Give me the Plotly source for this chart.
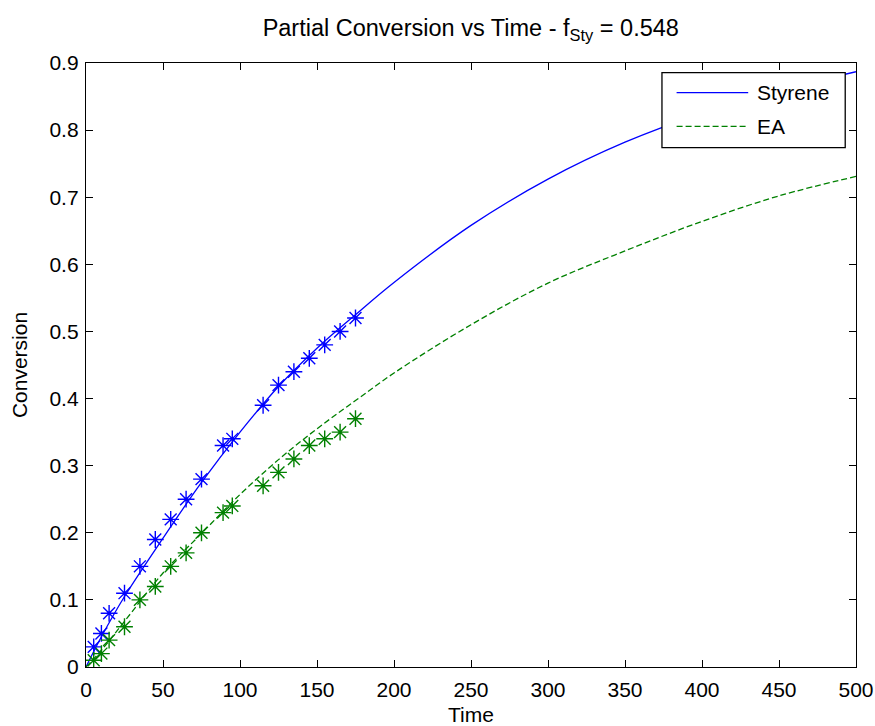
import plotly.graph_objects as go

# Measured conversions (sample times)
t_data = [5, 10, 15, 25, 35, 45, 55, 65, 75, 89, 95, 115, 125, 135, 145, 155, 165, 175]
sty_data = [0.03, 0.05, 0.08, 0.11, 0.15, 0.19, 0.22, 0.25, 0.28, 0.33, 0.34,
            0.39, 0.42, 0.44, 0.46, 0.48, 0.50, 0.52]
ea_data = [0.01, 0.02, 0.04, 0.06, 0.10, 0.12, 0.15, 0.17, 0.20, 0.23, 0.24,
           0.27, 0.29, 0.31, 0.33, 0.34, 0.35, 0.37]

# Model predictions
t_model = [0, 10, 25, 50, 75, 100, 125, 150, 175, 200, 250, 300, 350, 400, 450, 500]
sty_model = [0, 0.045, 0.105, 0.192, 0.275, 0.350, 0.418, 0.475, 0.525, 0.573,
             0.658, 0.727, 0.782, 0.825, 0.859, 0.887]
ea_model = [0, 0.025, 0.068, 0.140, 0.199, 0.257, 0.309, 0.355, 0.397, 0.438,
            0.510, 0.572, 0.620, 0.664, 0.702, 0.731]

x_ticks = [0, 50, 100, 150, 200, 250, 300, 350, 400, 450, 500]
y_ticks = [0, 0.1, 0.2, 0.3, 0.4, 0.5, 0.6, 0.7, 0.8, 0.9]
y_tick_text = ["0", "0.1", "0.2", "0.3", "0.4", "0.5", "0.6", "0.7", "0.8", "0.9"]

BLUE = "#0000ff"
GREEN = "#008000"
FONT = "Liberation Sans, Arial, sans-serif"
DASH = "6px,3px"

fig = go.Figure()
fig.add_trace(go.Scatter(x=t_model, y=sty_model, mode="lines", name="Styrene",
                         line=dict(color=BLUE, width=1.3, shape="spline", smoothing=1.0),
                         showlegend=False))
fig.add_trace(go.Scatter(x=t_model, y=ea_model, mode="lines", name="EA",
                         line=dict(color=GREEN, width=1.3, dash=DASH, shape="spline",
                                   smoothing=1.0),
                         showlegend=False))
fig.add_trace(go.Scatter(x=t_data, y=sty_data, mode="markers", showlegend=False,
                         marker=dict(symbol="asterisk-open", size=14, color=BLUE,
                                     line=dict(color=BLUE, width=1.4))))
fig.add_trace(go.Scatter(x=t_data, y=ea_data, mode="markers", showlegend=False,
                         marker=dict(symbol="asterisk-open", size=14, color=GREEN,
                                     line=dict(color=GREEN, width=1.4))))

# Boxed legend in the upper-right corner
lx0, lx1, ly0, ly1 = 0.748, 0.986, 0.860, 0.984
shapes = [
    dict(type="rect", xref="paper", yref="paper", x0=lx0, x1=lx1, y0=ly0, y1=ly1,
         fillcolor="white", line=dict(color="black", width=1.3), layer="above"),
    dict(type="line", xref="paper", yref="paper", x0=0.767, x1=0.860, y0=0.951, y1=0.951,
         line=dict(color=BLUE, width=1.3), layer="above"),
    dict(type="line", xref="paper", yref="paper", x0=0.767, x1=0.860, y0=0.895, y1=0.895,
         line=dict(color=GREEN, width=1.3, dash=DASH), layer="above"),
]
annotations = [
    dict(text="Styrene", xref="paper", yref="paper", x=0.869, y=0.951, xanchor="left",
         yanchor="middle", showarrow=False, font=dict(family=FONT, size=21, color="black")),
    dict(text="EA", xref="paper", yref="paper", x=0.869, y=0.895, xanchor="left",
         yanchor="middle", showarrow=False, font=dict(family=FONT, size=21, color="black")),
]

axis_common = dict(showgrid=False, zeroline=False, showline=True, linecolor="black",
                   linewidth=1.3, mirror="ticks", ticks="inside", ticklen=7,
                   tickwidth=1.3, tickcolor="black", automargin=False,
                   tickfont=dict(family=FONT, size=21, color="black"))

fig.update_layout(
    width=875, height=726,
    margin=dict(l=86, r=19, t=63, b=59),
    paper_bgcolor="white", plot_bgcolor="white",
    title=dict(text="Partial Conversion vs Time - f<sub>Sty</sub> = 0.548",
               x=0.538, xanchor="center", y=0.962, yanchor="middle",
               yref="container", font=dict(family=FONT, size=23.5, color="black")),
    xaxis=dict(range=[0, 500], tickvals=x_ticks, ticklabelstandoff=4,
               title=dict(text="Time", font=dict(family=FONT, size=21, color="black"),
                          standoff=6),
               **axis_common),
    yaxis=dict(range=[0, 0.9], tickvals=y_ticks, ticktext=y_tick_text,
               ticklabelstandoff=2,
               title=dict(text="Conversion", font=dict(family=FONT, size=21, color="black"),
                          standoff=16),
               **axis_common),
    shapes=shapes, annotations=annotations,
    showlegend=False,
)

fig.write_html("out.html")
